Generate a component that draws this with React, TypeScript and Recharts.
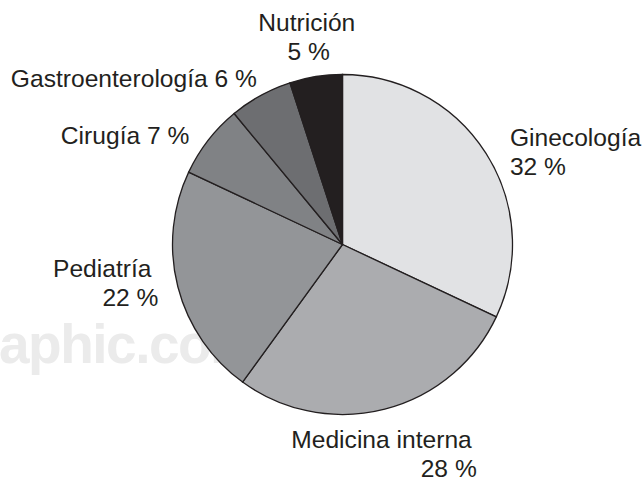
import React from 'react';
import { PieChart, Pie, Cell } from 'recharts';

const categories = ['Ginecología', 'Medicina interna', 'Pediatría', 'Cirugía', 'Gastroenterología', 'Nutrición'];
const values = [32, 28, 22, 7, 6, 5];
const colors = ['#e1e2e4', '#abacaf', '#939598', '#808285', '#6d6e71', '#231f20'];

// label styling: how the label is laid out relative to the slice's outer point
const labelStyles = [
  { split: true, anchor: 'start', dx: 7, dy: 3, lineDx: [0, 0] },
  { split: true, anchor: 'end', dx: 85, dy: 19.5, lineDx: [-3, 2] },
  { split: true, anchor: 'end', dx: -1, dy: -15, lineDx: [-6, 1] },
  { split: false, anchor: 'end', dx: -3, dy: 16, lineDx: [0] },
  { split: false, anchor: 'end', dx: 6, dy: 9, lineDx: [0] },
  { split: true, anchor: 'middle', dx: -6, dy: -26, lineDx: [0, 2] },
];

const data = categories.map((name, i) => ({ name, value: values[i] }));

const RAD = Math.PI / 180;
const TEXT = '#231f20';
const FONT = '"Liberation Sans", Arial, Helvetica, sans-serif';
const LINE_H = 29;

const renderLabel = (props: any) => {
  const { cx, cy, midAngle, outerRadius, index } = props;
  const r = outerRadius + 20;
  const x = cx + r * Math.cos(-midAngle * RAD);
  const y = cy + r * Math.sin(-midAngle * RAD);
  const st = labelStyles[index];
  const name = categories[index];
  const pct = `${values[index]} %`;
  const lines = st.split ? [name, pct] : [`${name} ${pct}`];
  return (
    <text
      key={`lbl-${index}`}
      x={x + st.dx}
      y={y + st.dy}
      textAnchor={st.anchor as any}
      fill={TEXT}
      fontSize={24.6}
      fontFamily={FONT}
    >
      {lines.map((l, j) => (
        <tspan key={j} x={x + st.dx + (st.lineDx[j] || 0)} dy={j === 0 ? 0 : LINE_H}>
          {l}
        </tspan>
      ))}
    </text>
  );
};

export default function App() {
  return (
    <div style={{ position: 'absolute', left: 0, top: 0, width: 642, height: 480, background: '#fff' }}>
      <svg width={642} height={480} style={{ position: 'absolute', left: 0, top: 0 }}>
        <text
          x={-1}
          y={363}
          fontSize={55}
          fontWeight="bold"
          fontFamily={FONT}
          fill="#ebebeb"
          letterSpacing={-1.5}
        >
          aphic.com
        </text>
      </svg>
      <div style={{ position: 'absolute', left: 0, top: 0 }}>
        <PieChart width={642} height={480} margin={{ top: 0, right: 0, bottom: 0, left: 0 }}>
          <Pie
            data={data}
            dataKey="value"
            nameKey="name"
            cx={342.5}
            cy={244.5}
            outerRadius={170}
            startAngle={90}
            endAngle={-270}
            stroke="#231f20"
            strokeWidth={1.3}
            label={renderLabel}
            labelLine={false}
            isAnimationActive={false}
          >
            {data.map((d, i) => (
              <Cell key={d.name} fill={colors[i]} />
            ))}
          </Pie>
        </PieChart>
      </div>
    </div>
  );
}
